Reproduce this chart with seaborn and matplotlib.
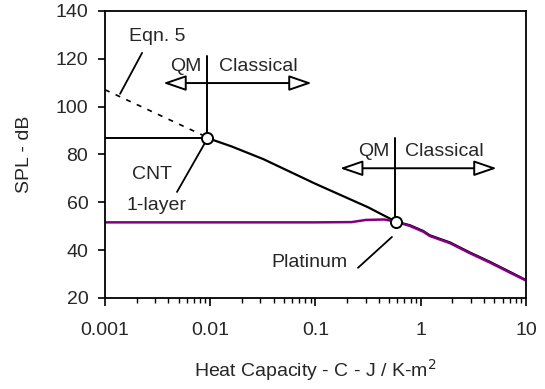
import matplotlib
matplotlib.use("Agg")
import matplotlib.pyplot as plt
import seaborn as sns
import numpy as np
import pandas as pd

# ---- data ----
eqn5_C = [0.001, 0.0093]
eqn5_spl = [107.0, 87.2]

cnt_C = [0.0093, 0.016, 0.032, 0.1, 0.316, 0.58, 0.79, 1.057, 1.22, 1.90, 2.94, 4.55, 7.05, 10.0]
cnt_spl = [86.9, 83.3, 78.0, 67.7, 57.9, 51.9, 50.4, 48.0, 46.2, 43.2, 39.0, 35.1, 30.9, 27.5]

pt_C = [0.001, 0.01, 0.1, 0.22, 0.3, 0.45, 0.58, 0.79, 1.057, 1.22, 1.90, 2.94, 4.55, 7.05, 10.0]
pt_spl = [51.6, 51.6, 51.6, 51.7, 52.6, 52.8, 51.9, 50.1, 47.7, 45.9, 42.9, 38.7, 34.8, 30.6, 27.3]

cnt_point = (0.0093, 86.9)
pt_point = (0.58, 51.9)

x_ticks = [0.001, 0.01, 0.1, 1, 10]
x_ticklabels = ["0.001", "0.01", "0.1", "1", "10"]
y_ticks = [20, 40, 60, 80, 100, 120, 140]

sns.set_style("ticks")
plt.rcParams['font.family'] = ['Liberation Sans', 'DejaVu Sans']

fig = plt.figure(figsize=(5.45, 3.89), dpi=100)
ax = fig.add_axes([0.1927, 0.234, 0.7723, 0.7383])

df_eq = pd.DataFrame({"C": eqn5_C, "SPL": eqn5_spl})
df_cnt = pd.DataFrame({"C": cnt_C, "SPL": cnt_spl})
df_pt = pd.DataFrame({"C": pt_C, "SPL": pt_spl})

sns.lineplot(data=df_eq, x="C", y="SPL", ax=ax, color="black", lw=1.2,
             linestyle=(0, (3, 4)), sort=False)
sns.lineplot(data=df_cnt, x="C", y="SPL", ax=ax, color="black", lw=1.6, sort=False)
sns.lineplot(data=df_pt, x="C", y="SPL", ax=ax, color="#800080", lw=1.8, sort=False)

# reference lines
ax.plot([0.001, cnt_point[0]], [cnt_point[1], cnt_point[1]], color="black", lw=1.4)
ax.plot([cnt_point[0], cnt_point[0]], [cnt_point[1], 121.3], color="black", lw=1.4)
ax.plot([0.57, 0.57], [pt_point[1], 86.8], color="black", lw=1.4)

# arrows
arrow_kw = dict(arrowstyle="<|-|>,head_length=0.7,head_width=0.24", mutation_scale=20,
                fc="white", ec="black", lw=1.4, shrinkA=0, shrinkB=0)
ax.annotate("", xy=(0.00358, 109.8), xytext=(0.092, 109.8), arrowprops=arrow_kw)
ax.annotate("", xy=(0.171, 74.2), xytext=(5.27, 74.2), arrowprops=arrow_kw)

# markers
ax.plot(*cnt_point, marker="o", ms=8, mfc="white", mec="black", mew=1.4, zorder=5)
ax.plot(*pt_point, marker="o", ms=8, mfc="white", mec="black", mew=1.4, zorder=5)

fs = 14
ax.text(0.00828, 116.7, "QM", ha="right", va="center", fontsize=fs)
ax.text(0.0121, 116.7, "Classical", ha="left", va="center", fontsize=fs)
ax.text(0.51, 81.2, "QM", ha="right", va="center", fontsize=fs)
ax.text(0.708, 81.2, "Classical", ha="left", va="center", fontsize=fs)
ax.text(0.00312, 129.3, "Eqn. 5", ha="center", va="center", fontsize=fs)
ax.text(0.00277, 71.4, "CNT", ha="center", va="center", fontsize=fs)
ax.text(0.0031, 58.5, "1-layer", ha="center", va="center", fontsize=fs)
ax.text(0.0867, 34.8, "Platinum", ha="center", va="center", fontsize=fs)

# leader lines
ax.plot([0.00225, 0.00139], [122.4, 105.3], color="black", lw=1.3)
ax.plot([0.00891, 0.00483], [84.8, 64.3], color="black", lw=1.3)
ax.plot([0.2535, 0.533], [32.6, 45.5], color="black", lw=1.3)

ax.set_xscale("log")
ax.set_xlim(0.001, 10)
ax.set_ylim(20, 140)
ax.set_xticks(x_ticks)
ax.set_xticklabels(x_ticklabels)
ax.set_yticks(y_ticks)
ax.tick_params(axis="both", which="major", labelsize=fs, direction="out",
               length=5, width=1.2, color="black")
ax.tick_params(axis="x", which="major", pad=11, length=6)
ax.tick_params(axis="y", which="major", pad=7)
ax.tick_params(axis="x", which="minor", length=3.5, width=1.0, direction="out", color="black")
ax.tick_params(axis="y", which="minor", left=False)

for s in ax.spines.values():
    s.set_visible(True)
    s.set_linewidth(1.3)
    s.set_color("black")

ax.set_xlabel("Heat Capacity - C - J / K-m$^2$", fontsize=fs, labelpad=13)
ax.set_ylabel("SPL - dB", fontsize=fs, labelpad=16)

fig.savefig("out.png", dpi=100)
